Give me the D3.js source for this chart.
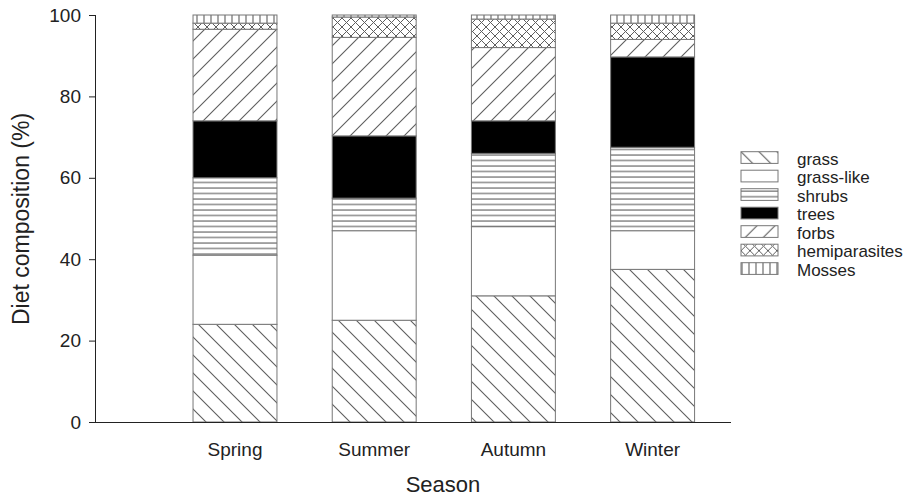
<!DOCTYPE html>
<html><head><meta charset="utf-8">
<script src="https://cdn.jsdelivr.net/npm/d3@7"></script>
<style>body{margin:0;background:#fff;} svg{display:block;font-family:"Liberation Sans",Arial,sans-serif;}</style>
</head><body>
<svg id="chart" width="915" height="498"></svg>
<script>
const seasons = ["Spring", "Summer", "Autumn", "Winter"];
const categories = ["grass", "grass-like", "shrubs", "trees", "forbs", "hemiparasites", "Mosses"];
const grass = [24, 25, 31, 37.5];
const grassLike = [17, 22, 17, 9.5];
const shrubs = [19, 8, 18, 20.5];
const trees = [14, 15.3, 8, 22.2];
const forbs = [22.5, 24.2, 18, 4.3];
const hemiparasites = [1.5, 5, 7, 4];
const mosses = [2, 0.5, 1, 2];
const yTicks = [0, 20, 40, 60, 80, 100];

const seriesValues = [grass, grassLike, shrubs, trees, forbs, hemiparasites, mosses];
const rows = seasons.map((s, i) => {
  const r = {season: s};
  categories.forEach((c, k) => r[c] = seriesValues[k][i]);
  return r;
});

const svg = d3.select("#chart");
const defs = svg.append("defs");
const lc = "#5e5e5e";
function pat(id, w, h, draw) {
  const p = defs.append("pattern").attr("id", id).attr("patternUnits", "userSpaceOnUse")
    .attr("width", w).attr("height", h);
  p.append("rect").attr("width", w).attr("height", h).attr("fill", "#fff");
  draw(p, w, h);
}
pat("p-grass", 18, 18, (p, s) => {
  p.append("path").attr("d", `M0,0L${s},${s}M${-s/2},${s/2}L${s/2},${s*1.5}M${s/2},${-s/2}L${s*1.5},${s/2}`)
    .attr("stroke", lc).attr("stroke-width", 1.1);
});
pat("p-forbs", 18, 18, (p, s) => {
  p.append("path").attr("d", `M0,${s}L${s},0M${-s/2},${s/2}L${s/2},${-s/2}M${s/2},${s*1.5}L${s*1.5},${s/2}`)
    .attr("stroke", lc).attr("stroke-width", 1.1);
});
pat("p-shrubs", 10, 5.5, (p) => {
  p.append("line").attr("x1", 0).attr("x2", 10).attr("y1", 1).attr("y2", 1).attr("stroke", lc).attr("stroke-width", 1.1);
});
pat("p-hemi", 9, 9, (p, s) => {
  p.append("path").attr("d", `M0,0L${s},${s}M0,${s}L${s},0`).attr("stroke", lc).attr("stroke-width", 1);
});
pat("p-mosses", 7, 10, (p) => {
  p.append("line").attr("x1", 1).attr("x2", 1).attr("y1", 0).attr("y2", 10).attr("stroke", lc).attr("stroke-width", 1.1);
});
const fills = {
  "grass": "url(#p-grass)", "grass-like": "#fff", "shrubs": "url(#p-shrubs)", "trees": "#000",
  "forbs": "url(#p-forbs)", "hemiparasites": "url(#p-hemi)", "Mosses": "url(#p-mosses)"
};

const x0 = 96, xEnd = 731, yTop = 15, yBot = 422;
const x = d3.scaleBand().domain(seasons).range([96, 791.6]).paddingInner(0.397).paddingOuter(0.697);
const y = d3.scaleLinear().domain([0, 100]).range([yBot, yTop]);

const stack = d3.stack().keys(categories)(rows);

const g = svg.append("g");
stack.forEach(layer => {
  g.append("g").selectAll("rect").data(layer).join("rect")
    .attr("x", d => x(d.data.season))
    .attr("width", x.bandwidth())
    .attr("y", d => y(d[1]))
    .attr("height", d => y(d[0]) - y(d[1]))
    .attr("fill", fills[layer.key])
    .attr("stroke", "#777").attr("stroke-width", 1);
});

const ff = "Liberation Sans, Arial, sans-serif";
// Y axis
const yAxis = svg.append("g").attr("transform", `translate(${x0},0)`)
  .call(d3.axisLeft(y).tickValues(yTicks).tickSize(7).tickPadding(8));
yAxis.select(".domain").attr("stroke", "#222").attr("d", `M-0.5,${yTop}V${yBot}`);
yAxis.selectAll(".tick line").attr("stroke", "#222");
yAxis.selectAll("text").attr("font-size", 19).attr("fill", "#222").attr("font-family", ff);

// X axis
const xAxis = svg.append("g").attr("transform", `translate(0,${yBot})`)
  .call(d3.axisBottom(x).tickSize(0).tickPadding(21));
xAxis.select(".domain").attr("stroke", "#222").attr("d", `M${x0},0.5H${xEnd}`);
xAxis.selectAll("text").attr("font-size", 19).attr("fill", "#222").attr("font-family", ff);

svg.append("text").attr("x", 443).attr("y", 492).attr("text-anchor", "middle")
  .attr("font-size", 22).attr("fill", "#222").text("Season");
svg.append("text").attr("transform", "translate(29,219) rotate(-90)").attr("text-anchor", "middle")
  .attr("font-size", 23).attr("fill", "#222").text("Diet composition (%)");

// Legend
const leg = svg.append("g").attr("transform", "translate(741,151.7)");
categories.forEach((c, i) => {
  const gy = i * 18.5;
  leg.append("rect").attr("x", 0).attr("y", gy).attr("width", 37).attr("height", 11.7)
    .attr("fill", fills[c]).attr("stroke", "#777");
  leg.append("text").attr("x", 56).attr("y", gy + 13).attr("font-size", 17).attr("fill", "#222").text(c);
});
</script>
</body></html>
